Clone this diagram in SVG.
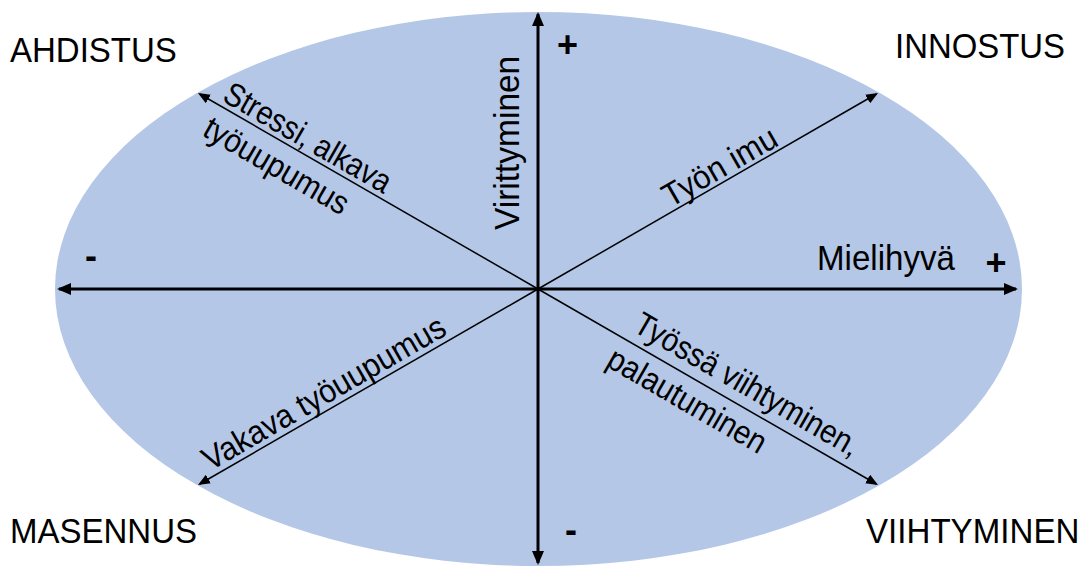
<svg xmlns="http://www.w3.org/2000/svg" width="1086" height="567" viewBox="0 0 1086 567">
  <style>
    .lbl { font-family: "Liberation Sans", Arial, sans-serif; font-size: 36px; fill: #000; }
    .diag { font-family: "Liberation Sans", Arial, sans-serif; font-size: 33px; fill: #000; }
    .sign { font-family: "Liberation Sans", Arial, sans-serif; font-size: 36px; font-weight: bold; fill: #000; text-anchor: middle; }
    .axis { stroke: #000; stroke-width: 3; fill: none; }
    .ray { stroke: #000; stroke-width: 1.5; fill: none; }
  </style>
  <defs>
    <marker id="bigArrow" markerUnits="userSpaceOnUse" markerWidth="14" markerHeight="12" refX="12" refY="6" orient="auto-start-reverse">
      <path d="M0,0 L14,6 L0,12 z" fill="#000"/>
    </marker>
    <marker id="smallArrow" markerUnits="userSpaceOnUse" markerWidth="12" markerHeight="10" refX="10" refY="5" orient="auto">
      <path d="M0,0 L12,5 L0,10 z" fill="#000"/>
    </marker>
  </defs>

  <g id="background">
    <ellipse cx="538.5" cy="289" rx="483.5" ry="277" fill="#B4C7E7"/>
  </g>

  <g id="connectors">
    <line class="axis" x1="59" y1="289" x2="1016" y2="289" marker-start="url(#bigArrow)" marker-end="url(#bigArrow)"/>
    <line class="axis" x1="538" y1="14" x2="538" y2="563" marker-start="url(#bigArrow)" marker-end="url(#bigArrow)"/>
    <line class="ray" x1="538" y1="289" x2="876.3" y2="94" marker-end="url(#smallArrow)"/>
    <line class="ray" x1="538" y1="289" x2="199.7" y2="94" marker-end="url(#smallArrow)"/>
    <line class="ray" x1="538" y1="289" x2="199.7" y2="484" marker-end="url(#smallArrow)"/>
    <line class="ray" x1="538" y1="289" x2="876.3" y2="484" marker-end="url(#smallArrow)"/>
  </g>

  <g id="ahdistus"><text class="lbl" transform="translate(10,62) scale(0.917,1)">AHDISTUS</text></g>
  <g id="innostus"><text class="lbl" transform="translate(895,58) scale(0.914,1)">INNOSTUS</text></g>
  <g id="masennus"><text class="lbl" transform="translate(10,543) scale(0.917,1)">MASENNUS</text></g>
  <g id="viihtyminen"><text class="lbl" transform="translate(866,543) scale(0.92,1)">VIIHTYMINEN</text></g>
  <g id="mielihyva"><text class="lbl" transform="translate(817,270) scale(0.92,1)">Mielihyvä</text></g>
  <g id="virittyminen"><text class="lbl" transform="translate(519,230) rotate(-90) scale(0.93,1)">Virittyminen</text></g>

  <g id="signs">
    <text class="sign" x="567.5" y="57">+</text>
    <text class="sign" x="996" y="275">+</text>
    <text class="sign" x="91" y="268">-</text>
    <text class="sign" x="571" y="542">-</text>
  </g>

  <g id="stressi" transform="translate(538,289) rotate(30)">
    <text class="diag" x="-369" y="-5" textLength="188" lengthAdjust="spacingAndGlyphs">Stressi, alkava</text>
    <text class="diag" x="-369" y="35" textLength="162" lengthAdjust="spacingAndGlyphs">työuupumus</text>
  </g>
  <g id="tyon-imu" transform="translate(538,289) rotate(-30)">
    <text class="diag" x="155" y="-4" textLength="127" lengthAdjust="spacingAndGlyphs">Työn imu</text>
  </g>
  <g id="vakava" transform="translate(538,289) rotate(-30)">
    <text class="diag" x="-375" y="-6" textLength="275" lengthAdjust="spacingAndGlyphs">Vakava työuupumus</text>
  </g>
  <g id="tyossa" transform="translate(538,289) rotate(30)">
    <text class="diag" x="102" y="-11" textLength="254" lengthAdjust="spacingAndGlyphs">Työssä viihtyminen,</text>
    <text class="diag" x="96" y="33" textLength="178" lengthAdjust="spacingAndGlyphs">palautuminen</text>
  </g>
</svg>
